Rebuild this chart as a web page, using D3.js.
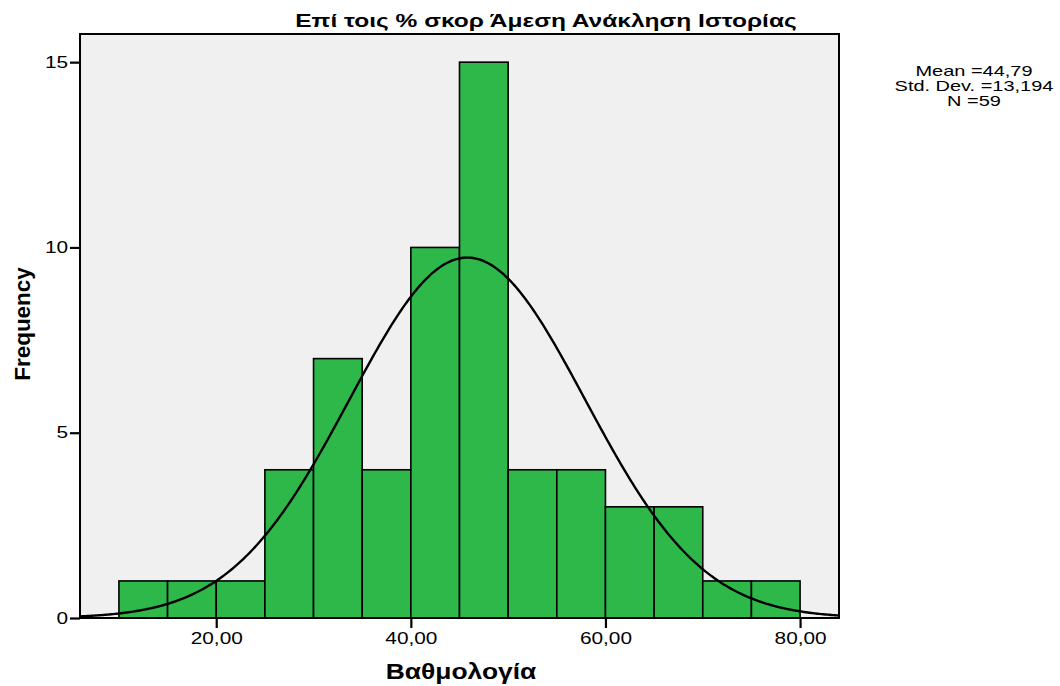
<!DOCTYPE html>
<html>
<head>
<meta charset="utf-8">
<script src="https://cdn.jsdelivr.net/npm/d3@7"></script>
<style>
  html, body { margin: 0; padding: 0; background: #ffffff; }
  svg { display: block; }
</style>
</head>
<body>
<svg id="chart" width="1060" height="686"></svg>
<script>
// ---- data ----
const binStarts = [10, 15, 20, 25, 30, 35, 40, 45, 50, 55, 60, 65, 70, 75];
const binWidth = 5;
const frequencies = [1, 1, 1, 4, 7, 4, 10, 15, 4, 4, 3, 3, 1, 1];
const xTickValues = [20, 40, 60, 80];
const xTickLabels = ["20,00", "40,00", "60,00", "80,00"];
const yTickValues = [0, 5, 10, 15];
const yTickLabels = ["0", "5", "10", "15"];
const xDomain = [6, 84];
const yDomain = [0, 15.76];
// normal curve as drawn in the picture
const curveMean = 45.8;
const curveSd = 12.1;
const curveN = 59;
const statsLines = ["Mean =44,79", "Std. Dev. =13,194", "N =59"];
const titleText = "Επί τοις % σκορ Άμεση Ανάκληση Ιστορίας";
const xTitle = "Βαθμολογία";
const yTitle = "Frequency";

// ---- layout ----
const svg = d3.select("#chart");
const L = 80, R = 839, T = 34, B = 618;
const x = d3.scaleLinear().domain(xDomain).range([L, R]);
const y = d3.scaleLinear().domain(yDomain).range([B, T]);
const font = "'Liberation Sans', Arial, sans-serif";

// widen glyphs horizontally (reference uses a wide rendering)
function stretch(sel, f) {
  sel.each(function () {
    const w = this.getComputedTextLength();
    d3.select(this).attr("textLength", w * f).attr("lengthAdjust", "spacingAndGlyphs");
  });
}

// plot background
svg.append("rect")
  .attr("x", L).attr("y", T).attr("width", R - L).attr("height", B - T)
  .attr("fill", "#f0f0f0");

// bars
svg.append("g").selectAll("rect")
  .data(binStarts.map((s, i) => ({ s, f: frequencies[i] })))
  .join("rect")
  .attr("x", d => x(d.s))
  .attr("y", d => y(d.f))
  .attr("width", d => x(d.s + binWidth) - x(d.s))
  .attr("height", d => y(0) - y(d.f))
  .attr("fill", "#2fb84a")
  .attr("stroke", "#000")
  .attr("stroke-width", 1.6);

// normal curve
const pts = d3.range(xDomain[0], xDomain[1] + 0.01, 0.2).map(v => [
  v,
  curveN * binWidth / (curveSd * Math.sqrt(2 * Math.PI)) *
    Math.exp(-((v - curveMean) ** 2) / (2 * curveSd * curveSd))
]);
svg.append("path")
  .datum(pts)
  .attr("fill", "none")
  .attr("stroke", "#000")
  .attr("stroke-width", 2.4)
  .attr("d", d3.line().x(d => x(d[0])).y(d => y(d[1])).curve(d3.curveBasis));

// frame
svg.append("rect")
  .attr("x", L).attr("y", T).attr("width", R - L).attr("height", B - T)
  .attr("fill", "none").attr("stroke", "#000").attr("stroke-width", 2);

// x axis
const xAxis = d3.axisBottom(x).tickValues(xTickValues)
  .tickFormat((d, i) => xTickLabels[i]).tickSize(10).tickSizeOuter(0).tickPadding(5);
const gx = svg.append("g").attr("transform", `translate(0,${B})`).call(xAxis);
gx.select(".domain").remove();
gx.selectAll(".tick line").attr("stroke", "#000").attr("stroke-width", 2.2);
gx.selectAll(".tick text").attr("font-family", font).attr("font-size", 16).attr("fill", "#000");
stretch(gx.selectAll(".tick text"), 1.3);

// y axis
const yAxis = d3.axisLeft(y).tickValues(yTickValues)
  .tickFormat((d, i) => yTickLabels[i]).tickSize(10).tickSizeOuter(0).tickPadding(2);
const gy = svg.append("g").attr("transform", `translate(${L},0)`).call(yAxis);
gy.select(".domain").remove();
gy.selectAll(".tick line").attr("stroke", "#000").attr("stroke-width", 2.2);
gy.selectAll(".tick text").attr("font-family", font).attr("font-size", 16).attr("fill", "#000");
stretch(gy.selectAll(".tick text"), 1.3);

// title
const tt = svg.append("text")
  .attr("x", 546).attr("y", 27)
  .attr("text-anchor", "middle")
  .attr("font-family", font).attr("font-weight", "bold").attr("font-size", 19)
  .text(titleText);
stretch(tt, 1.29);

// axis titles
const xt = svg.append("text")
  .attr("x", 461).attr("y", 679)
  .attr("text-anchor", "middle")
  .attr("font-family", font).attr("font-weight", "bold").attr("font-size", 22)
  .text(xTitle);
stretch(xt, 1.2);

const yt = svg.append("text")
  .attr("transform", "translate(30,324) rotate(-90)")
  .attr("text-anchor", "middle")
  .attr("font-family", font).attr("font-weight", "bold").attr("font-size", 22)
  .text(yTitle);
stretch(yt, 1.02);

// stats
const st = svg.append("g").selectAll("text")
  .data(statsLines)
  .join("text")
  .attr("x", 974)
  .attr("y", (d, i) => 76 + i * 15)
  .attr("text-anchor", "middle")
  .attr("font-family", font).attr("font-size", 15)
  .text(d => d);
stretch(st, 1.33);
</script>
</body>
</html>
